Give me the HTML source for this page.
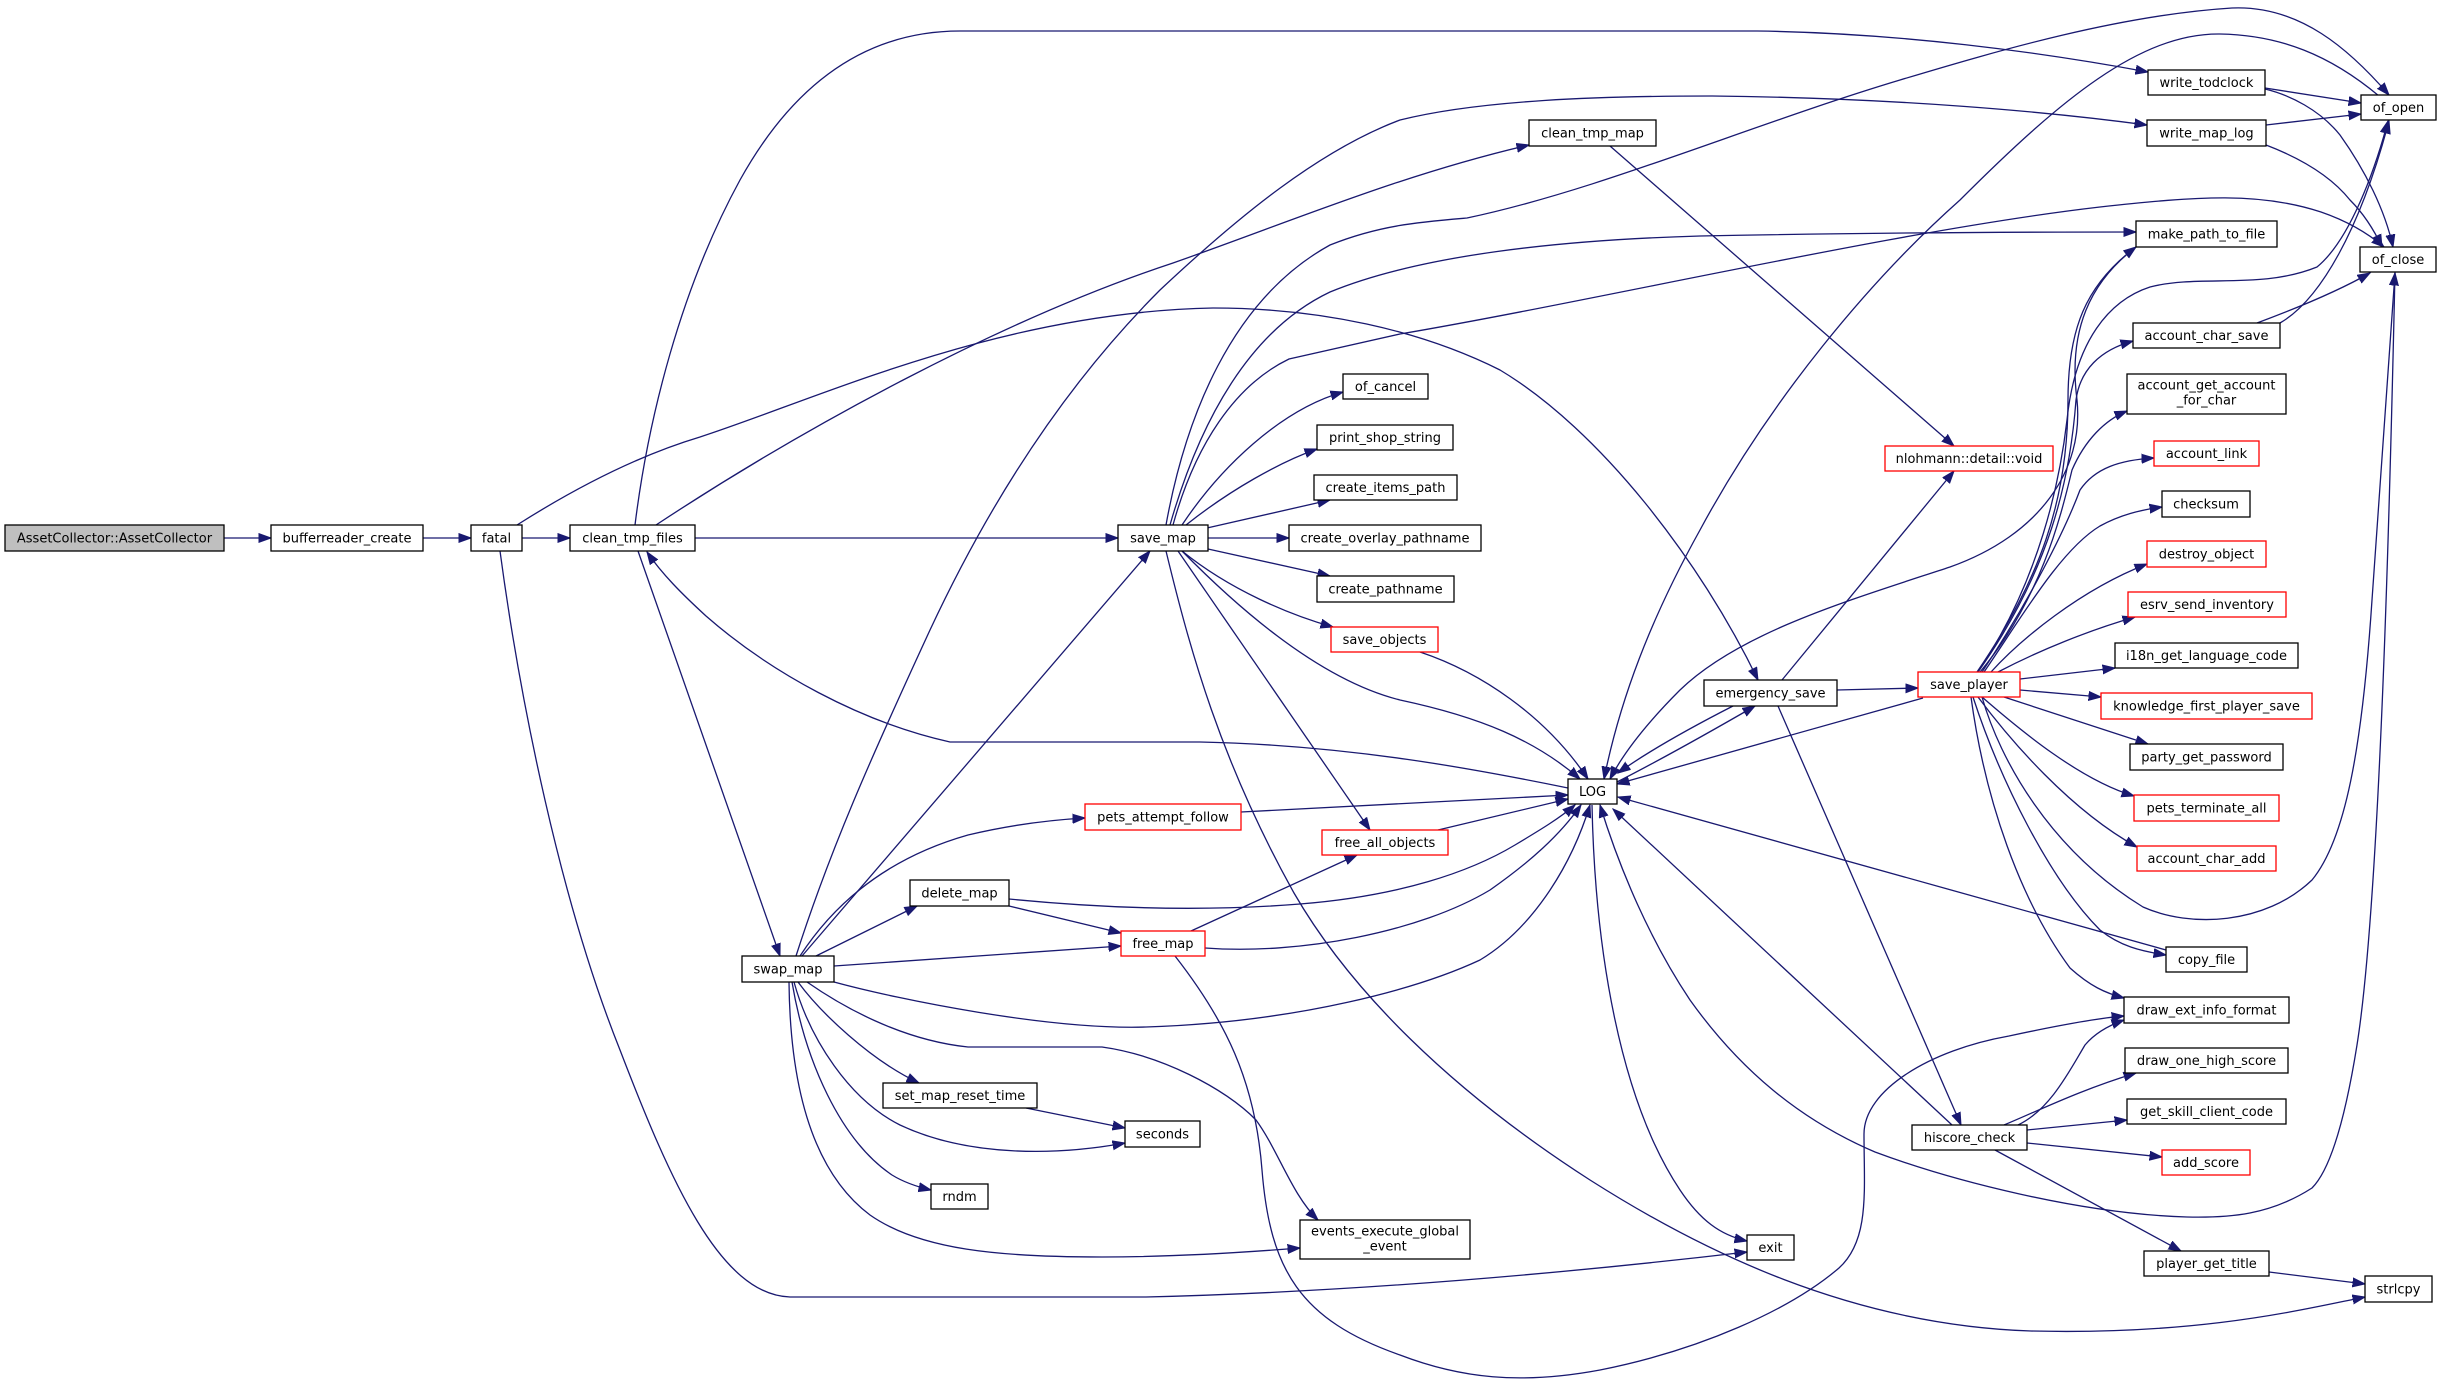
<!DOCTYPE html>
<html><head><meta charset="utf-8"><style>
html,body{margin:0;padding:0;background:#fff;}
svg{display:block;}
text{font-family:"DejaVu Sans","Liberation Sans",sans-serif;font-size:13px;fill:#000;text-anchor:middle;}
.e{fill:none;stroke:#191970;stroke-width:1.3;marker-end:url(#a);}
.n{fill:#fff;stroke:#000;stroke-width:1.3;}
.r{fill:#fff;stroke:#ff0000;stroke-width:1.3;}
</style></head><body>
<svg width="2441" height="1388" viewBox="0 0 2441 1388" xmlns="http://www.w3.org/2000/svg">
<defs><marker id="a" markerUnits="userSpaceOnUse" markerWidth="14" markerHeight="11" refX="12.5" refY="5" orient="auto"><path d="M0,0.5 L12.5,5 L0,9.5 z" fill="#191970" stroke="#191970" stroke-width="1"/></marker></defs>
<rect width="2441" height="1388" fill="#fff"/>
<g>
<path class="e" d="M224,538 L271,538"/>
<path class="e" d="M423,538 L471,538"/>
<path class="e" d="M522,538 L570,538"/>
<path class="e" d="M517,525 C580,485 640,455 700,437 C820,398 1000,312 1213,308 C1320,308 1420,330 1500,370 C1600,430 1700,560 1758,680"/>
<path class="e" d="M695,538 L1118,538"/>
<path class="e" d="M635,525 C648,420 680,290 740,180 C790,90 860,31 960,31 L1757,31 C1900,33 2040,52 2148,72"/>
<path class="e" d="M656,525 C800,430 1000,320 1173,263 C1290,222 1400,175 1529,145"/>
<path class="e" d="M1166,525 C1185,420 1230,300 1330,245 C1380,225 1420,222 1467,218 C1600,190 1750,125 1900,80 C2000,50 2120,15 2232,8 C2300,5 2350,50 2389,95"/>
<path class="e" d="M1170,525 C1200,420 1250,330 1330,292 C1420,255 1560,240 1700,236 C1900,232 2050,232 2136,232"/>
<path class="e" d="M1173,525 C1195,445 1235,385 1289,359 L1400,334 C1600,300 1900,230 2100,207 C2200,196 2260,192 2321,212 C2350,222 2370,235 2384,247"/>
<path class="e" d="M796,956 C830,850 870,760 930,630 C1000,480 1080,370 1160,290 C1240,215 1320,150 1400,120 C1480,100 1600,96 1712,96 C1900,98 2050,112 2147,125"/>
<path class="e" d="M802,956 L1150,551"/>
<path class="e" d="M638,551 L780,956"/>
<path class="e" d="M1568,788 C1480,770 1350,745 1200,742 L950,742 C860,722 770,672 706,616 C682,594 662,574 647,552"/>
<path class="e" d="M1182,551 C1240,610 1320,680 1400,700 C1480,717 1535,740 1580,779"/>
<path class="e" d="M1420,652 C1480,672 1545,715 1588,779"/>
<path class="e" d="M1178,551 L1370,830"/>
<path class="e" d="M1166,551 C1190,650 1220,760 1294,893 C1350,990 1450,1090 1590,1180 C1700,1250 1850,1325 2031,1331 C2200,1335 2300,1310 2365,1297"/>
<path class="e" d="M1182,525 C1220,468 1280,410 1343,392"/>
<path class="e" d="M1186,525 C1230,490 1280,462 1317,449"/>
<path class="e" d="M1207,528 L1330,500"/>
<path class="e" d="M1208,538 L1289,538"/>
<path class="e" d="M1208,549 L1330,576"/>
<path class="e" d="M1182,551 C1230,590 1290,615 1333,627"/>
<path class="e" d="M800,956 C830,910 880,860 968,835 C1010,825 1050,820 1085,818"/>
<path class="e" d="M1241,812 L1568,795"/>
<path class="e" d="M816,956 L917,906"/>
<path class="e" d="M1009,899 C1100,908 1200,912 1300,904 C1400,896 1470,872 1515,845 C1540,830 1560,818 1575,805"/>
<path class="e" d="M1009,906 L1121,933"/>
<path class="e" d="M834,966 L1121,946"/>
<path class="e" d="M1191,931 L1357,855"/>
<path class="e" d="M1205,948 C1300,955 1420,932 1490,890 C1530,862 1560,835 1581,805"/>
<path class="e" d="M1175,956 C1225,1020 1255,1080 1262,1170 C1270,1270 1300,1320 1400,1355 C1460,1378 1520,1385 1600,1370 C1700,1350 1790,1310 1839,1268 C1870,1240 1864,1190 1864,1134 C1864,1090 1930,1050 2009,1036 C2060,1025 2100,1018 2124,1016"/>
<path class="e" d="M834,982 C900,1000 1050,1030 1146,1027 C1300,1022 1420,988 1480,960 C1530,930 1570,870 1590,805"/>
<path class="e" d="M807,982 C840,1005 900,1040 968,1047 L1102,1047 C1160,1055 1225,1088 1256,1120 C1278,1150 1292,1195 1318,1220"/>
<path class="e" d="M798,982 C820,1012 870,1060 919,1083"/>
<path class="e" d="M1026,1108 L1125,1128"/>
<path class="e" d="M794,982 C810,1040 850,1100 900,1125 C970,1158 1060,1155 1125,1143"/>
<path class="e" d="M792,982 C805,1060 840,1140 892,1175 C905,1183 918,1187 931,1190"/>
<path class="e" d="M789,982 C790,1080 810,1170 870,1215 C920,1250 1000,1257 1102,1257 C1180,1257 1250,1252 1300,1248"/>
<path class="e" d="M500,551 C520,700 560,900 620,1050 C670,1180 720,1295 790,1297 L1146,1297 C1350,1292 1550,1275 1747,1252"/>
<path class="e" d="M1592,805 C1595,950 1620,1100 1680,1190 C1700,1220 1720,1235 1747,1241"/>
<path class="e" d="M1733,706 C1690,728 1650,750 1618,773"/>
<path class="e" d="M1617,782 C1660,760 1710,732 1755,706"/>
<path class="e" d="M1837,690 L1918,688"/>
<path class="e" d="M1782,680 L1954,471"/>
<path class="e" d="M1778,706 L1961,1125"/>
<path class="e" d="M1923,698 L1617,784"/>
<path class="e" d="M1610,146 L1954,446"/>
<path class="e" d="M2379,96 C2330,55 2280,35 2220,34 C2140,33 2060,100 1960,200 C1870,280 1770,400 1700,530 C1650,620 1620,700 1604,779"/>
<path class="e" d="M2395,272 C2390,500 2380,900 2357,1045 C2345,1120 2330,1170 2312,1188 C2270,1215 2230,1218 2187,1217 C2080,1214 1950,1180 1875,1152 C1800,1120 1740,1070 1690,1000 C1650,940 1620,870 1600,805"/>
<path class="e" d="M1982,697 C2000,760 2050,850 2143,907 C2190,928 2265,925 2312,880 C2345,840 2362,750 2372,600 C2382,450 2390,330 2395,273"/>
<path class="e" d="M2166,950 L1618,797"/>
<path class="e" d="M1973,697 C2000,780 2050,880 2100,930 C2120,946 2140,951 2166,955"/>
<path class="e" d="M1971,697 C1985,800 2020,900 2070,968 C2090,986 2105,993 2124,998"/>
<path class="e" d="M2004,697 L2148,744"/>
<path class="e" d="M2020,690 L2101,697"/>
<path class="e" d="M1982,697 C2020,730 2080,780 2134,796"/>
<path class="e" d="M1978,697 C2010,740 2070,810 2137,847"/>
<path class="e" d="M2020,679 L2115,668"/>
<path class="e" d="M1998,672 C2040,650 2090,630 2135,617"/>
<path class="e" d="M1991,672 C2020,640 2080,590 2147,564"/>
<path class="e" d="M1984,672 C2020,620 2060,550 2100,526 C2120,515 2140,510 2162,507"/>
<path class="e" d="M1982,672 C2030,600 2065,530 2080,490 C2095,468 2120,460 2154,458"/>
<path class="e" d="M1980,672 C2040,600 2060,520 2072,470 C2085,440 2105,420 2127,411"/>
<path class="e" d="M1978,672 C2050,570 2070,480 2076,400 C2080,370 2100,350 2133,341"/>
<path class="e" d="M1977,672 C2040,580 2068,500 2068,400 C2068,330 2085,285 2136,247"/>
<path class="e" d="M2136,247 C2090,282 2068,330 2077,400 C2084,470 2040,535 1950,567 C1850,600 1740,632 1680,690 C1650,720 1625,750 1610,779"/>
<path class="e" d="M1978,672 C2040,580 2060,480 2067,420 C2075,340 2110,300 2150,287 C2200,274 2260,290 2317,267 C2350,240 2375,170 2388,121"/>
<path class="e" d="M2280,323 C2320,300 2360,230 2389,121"/>
<path class="e" d="M2257,323 C2300,307 2340,290 2370,273"/>
<path class="e" d="M2265,88 L2361,103"/>
<path class="e" d="M2265,89 C2290,95 2320,110 2340,135 C2365,170 2385,210 2393,247"/>
<path class="e" d="M2266,125 L2361,114"/>
<path class="e" d="M2266,145 C2300,158 2330,175 2350,200 C2365,215 2375,232 2382,247"/>
<path class="e" d="M1952,1125 L1613,809"/>
<path class="e" d="M2018,1125 C2050,1110 2070,1070 2085,1045 C2095,1033 2110,1025 2124,1020"/>
<path class="e" d="M2004,1125 C2040,1110 2080,1090 2136,1073"/>
<path class="e" d="M2027,1130 L2127,1120"/>
<path class="e" d="M2027,1143 L2162,1157"/>
<path class="e" d="M1995,1150 L2181,1251"/>
<path class="e" d="M2269,1272 L2365,1284"/>
<path class="e" d="M1438,830 L1568,799"/>
</g>
<g>
<rect x="5" y="525" width="219" height="26" fill="#bfbfbf" stroke="#000" stroke-width="1.3"/><text x="114.5" y="542.5">AssetCollector::AssetCollector</text>
<rect class="n" x="271" y="525" width="152" height="26"/><text x="347" y="542.5">bufferreader_create</text>
<rect class="n" x="471" y="525" width="51" height="26"/><text x="496.5" y="542.5">fatal</text>
<rect class="n" x="570" y="525" width="125" height="26"/><text x="632.5" y="542.5">clean_tmp_files</text>
<rect class="n" x="1118" y="525" width="90" height="26"/><text x="1163" y="542.5">save_map</text>
<rect class="n" x="1529" y="120" width="127" height="26"/><text x="1592.5" y="137.5">clean_tmp_map</text>
<rect class="n" x="2148" y="70" width="117" height="25"/><text x="2206.5" y="87">write_todclock</text>
<rect class="n" x="2147" y="120" width="119" height="26"/><text x="2206.5" y="137.5">write_map_log</text>
<rect class="n" x="2361" y="95" width="75" height="25"/><text x="2398.5" y="112">of_open</text>
<rect class="n" x="2360" y="247" width="76" height="25"/><text x="2398" y="264">of_close</text>
<rect class="n" x="2136" y="221" width="141" height="26"/><text x="2206.5" y="238.5">make_path_to_file</text>
<rect class="n" x="2133" y="323" width="147" height="25"/><text x="2206.5" y="340">account_char_save</text>
<rect class="n" x="2127" y="374" width="159" height="40"/><text x="2206.5" y="389.5">account_get_account</text><text x="2206.5" y="404.5">_for_char</text>
<rect class="r" x="2154" y="441" width="105" height="25"/><text x="2206.5" y="458">account_link</text>
<rect class="n" x="2162" y="491" width="88" height="26"/><text x="2206" y="508.5">checksum</text>
<rect class="r" x="2147" y="541" width="119" height="26"/><text x="2206.5" y="558.5">destroy_object</text>
<rect class="r" x="2128" y="592" width="158" height="25"/><text x="2207" y="609">esrv_send_inventory</text>
<rect class="n" x="2115" y="643" width="183" height="25"/><text x="2206.5" y="660">i18n_get_language_code</text>
<rect class="r" x="2101" y="693" width="211" height="26"/><text x="2206.5" y="710.5">knowledge_first_player_save</text>
<rect class="n" x="2130" y="744" width="153" height="26"/><text x="2206.5" y="761.5">party_get_password</text>
<rect class="r" x="2134" y="795" width="145" height="26"/><text x="2206.5" y="812.5">pets_terminate_all</text>
<rect class="r" x="2137" y="846" width="139" height="25"/><text x="2206.5" y="863">account_char_add</text>
<rect class="n" x="2166" y="947" width="81" height="25"/><text x="2206.5" y="964">copy_file</text>
<rect class="n" x="2124" y="997" width="165" height="26"/><text x="2206.5" y="1014.5">draw_ext_info_format</text>
<rect class="n" x="2125" y="1048" width="163" height="25"/><text x="2206.5" y="1065">draw_one_high_score</text>
<rect class="n" x="2127" y="1099" width="159" height="25"/><text x="2206.5" y="1116">get_skill_client_code</text>
<rect class="r" x="2162" y="1150" width="88" height="25"/><text x="2206" y="1167">add_score</text>
<rect class="n" x="1912" y="1125" width="115" height="25"/><text x="1969.5" y="1142">hiscore_check</text>
<rect class="n" x="2144" y="1251" width="125" height="25"/><text x="2206.5" y="1268">player_get_title</text>
<rect class="n" x="2365" y="1276" width="67" height="26"/><text x="2398.5" y="1293.5">strlcpy</text>
<rect class="r" x="1918" y="672" width="102" height="25"/><text x="1969" y="689">save_player</text>
<rect class="n" x="1704" y="680" width="133" height="26"/><text x="1770.5" y="697.5">emergency_save</text>
<rect class="r" x="1885" y="446" width="168" height="25"/><text x="1969" y="463">nlohmann::detail::void</text>
<rect class="n" x="1568" y="779" width="49" height="25"/><text x="1592.5" y="796">LOG</text>
<rect class="n" x="1747" y="1235" width="47" height="25"/><text x="1770.5" y="1252">exit</text>
<rect class="n" x="1343" y="374" width="85" height="25"/><text x="1385.5" y="391">of_cancel</text>
<rect class="n" x="1317" y="425" width="136" height="25"/><text x="1385" y="442">print_shop_string</text>
<rect class="n" x="1314" y="475" width="143" height="25"/><text x="1385.5" y="492">create_items_path</text>
<rect class="n" x="1289" y="525" width="192" height="26"/><text x="1385" y="542.5">create_overlay_pathname</text>
<rect class="n" x="1317" y="576" width="137" height="26"/><text x="1385.5" y="593.5">create_pathname</text>
<rect class="r" x="1331" y="627" width="107" height="25"/><text x="1384.5" y="644">save_objects</text>
<rect class="r" x="1322" y="830" width="126" height="25"/><text x="1385" y="847">free_all_objects</text>
<rect class="r" x="1085" y="804" width="156" height="26"/><text x="1163" y="821.5">pets_attempt_follow</text>
<rect class="n" x="910" y="880" width="99" height="26"/><text x="959.5" y="897.5">delete_map</text>
<rect class="r" x="1121" y="931" width="84" height="25"/><text x="1163" y="948">free_map</text>
<rect class="n" x="742" y="956" width="92" height="26"/><text x="788" y="973.5">swap_map</text>
<rect class="n" x="883" y="1083" width="154" height="25"/><text x="960" y="1100">set_map_reset_time</text>
<rect class="n" x="1125" y="1121" width="75" height="26"/><text x="1162.5" y="1138.5">seconds</text>
<rect class="n" x="931" y="1184" width="57" height="25"/><text x="959.5" y="1201">rndm</text>
<rect class="n" x="1300" y="1220" width="170" height="39"/><text x="1385" y="1235.5">events_execute_global</text><text x="1385" y="1250.5">_event</text>
</g>
</svg>
</body></html>
